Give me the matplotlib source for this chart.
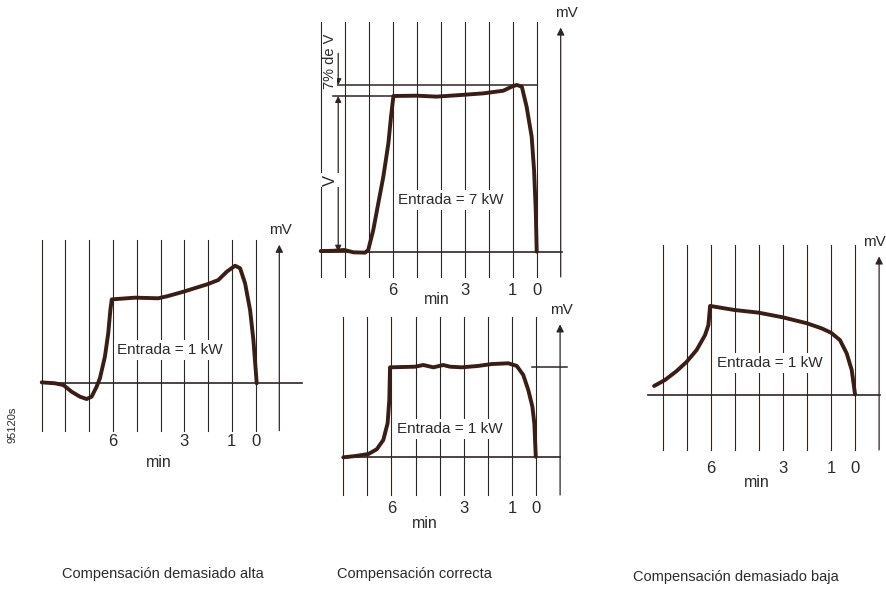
import matplotlib
matplotlib.use("Agg")
import matplotlib.pyplot as plt

plt.rcParams['font.family'] = ['Liberation Sans', 'DejaVu Sans']

# recorder traces: x in chart divisions (0 min at division 9), y in mV units
alta_x = [0, 0.56, 0.91, 1.26, 1.61, 1.89, 2.10, 2.31, 2.45, 2.66, 2.80, 2.89, 2.95,
          3.93, 4.91, 5.33, 5.96, 6.97, 7.43, 7.79, 8.14, 8.35, 8.56, 8.77, 8.91, 9.05]
alta_y = [0.6, 0, -1.1, -5.4, -8.6, -10.1, -8.6, -2.2, 3.2, 17.1, 32.1, 47.1, 53.9,
          55.0, 54.6, 56.1, 58.8, 63.6, 66.3, 71.7, 75.5, 73.9, 64.2, 47.1, 27.8, 0]

ok7_x = [0, 0.53, 0.98, 1.36, 1.85, 1.98, 2.19, 2.40, 2.61, 2.82, 2.93, 3.03,
         4.0, 4.83, 5.80, 6.78, 7.61, 7.96, 8.17, 8.38, 8.58, 8.79, 8.89, 8.96, 9.0]
ok7_y = [0.4, 0.6, 1.1, -0.4, -0.6, 1.1, 13.9, 31.1, 48.2, 69.6, 86.7, 100,
         100.2, 99.6, 100.6, 101.7, 103.4, 106.0, 107.1, 106.0, 93.1, 73.9, 52.5, 26.8, 0]

ok1_x = [1.0, 1.49, 2.04, 2.39, 2.66, 2.84, 2.91, 2.94, 3.98, 4.32, 4.74, 5.15,
         5.43, 5.92, 6.60, 7.16, 7.85, 8.20, 8.47, 8.68, 8.85, 8.93, 8.99]
ok1_y = [-0.4, 0.4, 1.7, 4.8, 10.7, 21.5, 36.4, 57.4, 57.8, 58.9, 57.4, 58.9,
         57.8, 57.4, 58.3, 59.5, 60.0, 58.3, 52.5, 42.8, 32.1, 21.5, 0]
ok1_level = 57.4

baja_x = [0.64, 1.09, 1.58, 2.0, 2.41, 2.76, 2.90, 2.97, 3.98, 4.98, 5.99, 6.99,
          7.61, 8.0, 8.37, 8.65, 8.86, 9.0]
baja_y = [5.8, 9.6, 15.4, 21.4, 28.9, 38.5, 44.9, 57.2, 54.6, 52.9, 49.9, 46.1,
          42.8, 40.0, 35.3, 26.8, 16.1, 0.4]

# V level and 7 % overshoot band for the correct compensation
v_level = 100
v_pct = 7

tick_pos = [3, 6, 8, 9]
tick_labels = ['6', '3', '1', '0']

inputs = ['Entrada = 1 kW', 'Entrada = 7 kW', 'Entrada = 1 kW', 'Entrada = 1 kW']
captions = ['Compensación demasiado alta', 'Compensación correcta', 'Compensación demasiado baja']

ink = '#2e2522'
trace = '#3a1d15'
txt = '#2a2a2a'

W, H = 886, 607
fig = plt.figure(figsize=(W / 100, H / 100), dpi=100)
fig.patch.set_facecolor('white')


def panel(x0, dx, y0, dy):
    # full-figure axes, division 0 at pixel x0, baseline at pixel row y0
    ax = fig.add_axes([0, 0, 1, 1])
    ax.set_xlim(-x0 / dx, (W - x0) / dx)
    ax.set_ylim((y0 - H) / dy, y0 / dy)
    ax.axis('off')
    ax.patch.set_alpha(0)
    return ax


def draw(ax, first, top, bot, base, xs, ys, label, label_xy, tick_y, min_xy, mv_y,
         mv_x=10.05, mv_ha='center'):
    for i in range(first, 10):
        ax.plot([i, i], [bot, top], color=ink, lw=0.8, zorder=1)
    ax.plot(base, [0, 0], color=ink, lw=1.2, zorder=2)
    ax.annotate('', xy=(10, mv_y - 3), xytext=(10, bot),
                arrowprops=dict(arrowstyle='-|>', color=ink, lw=0.9,
                                mutation_scale=11, shrinkA=0, shrinkB=0))
    ax.text(mv_x, mv_y + 2, 'mV', ha=mv_ha, va='bottom', fontsize=11, color=txt)
    ax.plot(xs, ys, color=trace, lw=2.8, solid_joinstyle='round',
            solid_capstyle='round', zorder=4)
    ax.text(*label_xy, label, ha='center', va='center', fontsize=11, color=txt, zorder=3,
            bbox=dict(boxstyle='square,pad=0.2', fc='white', ec='none'))
    for p, t in zip(tick_pos, tick_labels):
        ax.text(p, tick_y, t, ha='center', va='center', fontsize=12, color=txt)
    ax.text(*min_xy, 'min', ha='center', va='center', fontsize=11.5, color=txt)


ax1 = panel(41.7, 23.76, 383.3, 1.557)
draw(ax1, 0, 92, -30.4, [0, 10.96], alta_x, alta_y, inputs[0], (5.39, 21.4),
     -37.5, (4.91, -51.0), 92)

ax2 = panel(320.7, 24.0, 251.7, 1.557)
draw(ax2, 0, 147.7, -16.2, [0, 10.05], ok7_x, ok7_y, inputs[1], (5.40, 33.2),
     -24.6, (4.83, -31.0), 147, mv_x=10.25)
top = v_level * (1 + v_pct / 100)
ax2.plot([0.53, 9.0], [top, top], color=ink, lw=1.1, zorder=2)
ax2.plot([0.53, 3.03], [v_level, v_level], color=ink, lw=1.1, zorder=2)
ax2.annotate('', xy=(0.73, v_level), xytext=(0.73, 0),
             arrowprops=dict(arrowstyle='<|-|>', color=ink, lw=0.9,
                             mutation_scale=9, shrinkA=0, shrinkB=0))
ax2.annotate('', xy=(0.73, top), xytext=(0.73, 127.4),
             arrowprops=dict(arrowstyle='-|>', color=ink, lw=0.9,
                             mutation_scale=9, shrinkA=0, shrinkB=0))
ax2.text(0.39, 46, 'V', rotation=90, ha='center', va='center', fontsize=12, color=txt,
         bbox=dict(boxstyle='square,pad=0.1', fc='white', ec='none'))
ax2.text(0.37, 122, '7% de V', rotation=90, ha='center', va='center', fontsize=10.5,
         color=txt, bbox=dict(boxstyle='square,pad=0.05', fc='white', ec='none'))

ax3 = panel(319.2, 24.09, 456.7, 1.557)
draw(ax3, 1, 89.9, -24.6, [1.0, 10.0], ok1_x, ok1_y, inputs[2], (5.43, 18.0),
     -33.5, (4.39, -43.2), 88)
ax3.plot([8.82, 10.27], [ok1_level, ok1_level], color=ink, lw=1.1, zorder=2)

ax4 = panel(638.7, 24.04, 395, 1.557)
draw(ax4, 1, 96.3, -35.3, [0.39, 10.04], baja_x, baja_y, inputs[3], (5.46, 20.4),
     -47.5, (4.91, -56.5), 92, mv_x=10.28, mv_ha='right')

fig.text(13 / W, 1 - 425 / H, '95120s', rotation=90, ha='center', va='center',
         fontsize=8, color=txt)
for cx, cy, c in zip([163, 414.5, 736], [574, 574, 577], captions):
    fig.text(cx / W, 1 - cy / H, c, ha='center', va='center', fontsize=10.5, color=txt)

fig.savefig('out.png', dpi=100, facecolor='white')
